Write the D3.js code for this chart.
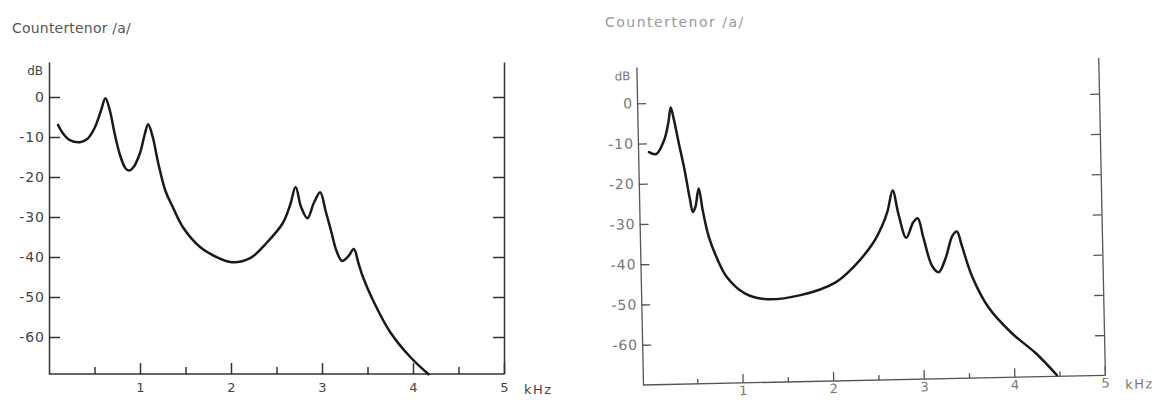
<!DOCTYPE html>
<meta charset="utf-8">
<style>
body { margin: 0; background: #fff; }
svg { font-family: "DejaVu Sans", sans-serif; }
.curve { fill: none; stroke: #1a1a1a; stroke-width: 2.5; stroke-linejoin: round; stroke-linecap: round; }
.axis path, .axis line { stroke: #333; stroke-width: 1.5; }
.right-panel .axis path, .right-panel .axis line { stroke: #555; stroke-width: 1.3; }
</style>
<svg width="1155" height="400"></svg>
<script src="https://d3js.org/d3.v7.min.js"></script>
<script>

var title = "Countertenor /a/";

var yTicks = [0, -10, -20, -30, -40, -50, -60];
var xTicks = [1, 2, 3, 4, 5];
var xMinorTicks = [0.5, 1.5, 2.5, 3.5, 4.5];

// left spectrum (kHz, dB)
var leftFreq = [0.10, 0.15, 0.23, 0.34, 0.42, 0.50, 0.57, 0.62, 0.67, 0.72, 0.78, 0.84, 0.88, 0.93,
                1.00, 1.05, 1.09, 1.14, 1.20, 1.28, 1.36, 1.47, 1.66, 1.84, 2.01, 2.21, 2.39,
                2.57, 2.65, 2.71, 2.77, 2.84, 2.91, 2.98, 3.04, 3.10, 3.16, 3.22, 3.29, 3.35,
                3.40, 3.45, 3.56, 3.75, 3.97, 4.17];
var leftDb = [-7, -9, -10.8, -11.3, -10.5, -7.8, -3.5, -0.3, -3.5, -9, -14.5, -17.8, -18.4, -17.5,
              -14, -9.5, -6.8, -10, -16.5, -23.5, -27.5, -32.5, -37.5, -40, -41.3, -40.3, -36.5,
              -31.5, -27, -22.5, -27.5, -30.3, -26.5, -23.8, -28.5, -33.5, -38.5, -41, -39.8, -38,
              -41.5, -45, -50.8, -58.8, -65, -69.3];

// right spectrum (kHz, dB)
var rightFreq = [0.02, 0.10, 0.19, 0.24, 0.27, 0.30, 0.35, 0.41, 0.46, 0.49, 0.52, 0.56, 0.60,
                 0.66, 0.74, 0.85, 1.04, 1.26, 1.66, 2.05, 2.25, 2.47, 2.58, 2.64, 2.70, 2.76,
                 2.84, 2.92, 2.97, 3.03, 3.12, 3.19, 3.27, 3.35, 3.40, 3.45, 3.56, 3.73,
                 3.98, 4.24, 4.47];
var rightDb = [-12.2, -12.7, -9.3, -5, -1.2, -4, -10, -17, -24, -27.3, -26, -21.5, -27,
               -33.5, -38.6, -43.6, -47.7, -49.3, -48.5, -45.5, -41.8, -36, -31.5, -28, -23, -29,
               -34.8, -31, -30, -35, -42, -43.5, -40, -34.5, -33.5, -37, -44.9, -52.5,
               -59, -64.1, -69.7];

var svg = d3.select("svg");

function panel(g, o) {
  var x = d3.scaleLinear().domain(o.xDomain).range(o.xRange);
  var y = d3.scaleLinear().domain(o.yDomain).range(o.yRange);
  var x0 = o.xRange[0], x1 = o.xRange[1], yb = o.yRange[0];

  g.append("g")
      .attr("class", "axis")
      .attr("transform", "translate(" + x0 + ",0)")
      .call(d3.axisLeft(y).tickValues(yTicks).tickSizeInner(-o.major).tickSizeOuter(0).tickPadding(4)
        .tickFormat(function(d) { return String(d); }))
      .call(function(a) {
        a.selectAll("text").attr("font-size", 14).attr("letter-spacing", 1)
          .attr("fill", o.text).attr("font-family", "DejaVu Sans");
      });

  g.append("g")
      .attr("class", "axis")
      .attr("transform", "translate(" + x1 + ",0)")
      .call(d3.axisRight(y).tickValues(yTicks).tickSizeInner(-o.major).tickSizeOuter(0).tickFormat(""));

  g.append("g")
      .attr("class", "axis")
      .attr("transform", "translate(0," + yb + ")")
      .call(d3.axisBottom(x).tickValues(xTicks).tickSizeInner(-o.major).tickSizeOuter(0)
        .tickPadding(o.labelPad).tickFormat(function(d) { return String(d); }))
      .call(function(a) {
        a.selectAll("text").attr("font-size", 13).attr("fill", o.text).attr("font-family", "DejaVu Sans");
        a.select(".domain").attr("d", "M" + x0 + ",0H" + x1);
      });

  g.append("g")
      .attr("class", "axis")
      .attr("transform", "translate(0," + yb + ")")
      .call(d3.axisBottom(x).tickValues(xMinorTicks).tickSizeInner(-o.minor).tickSizeOuter(0).tickFormat(""))
      .select(".domain").remove();

  g.append("text")
      .attr("x", x0 - 6)
      .attr("y", y(o.yDomain[1]) + 13)
      .attr("text-anchor", "end")
      .attr("font-size", 12)
      .attr("fill", o.text)
      .text("dB");

  g.append("text")
      .attr("x", x1 + 20)
      .attr("y", yb + o.labelPad + 11)
      .attr("font-size", 13)
      .attr("letter-spacing", 1.5)
      .attr("fill", o.text)
      .text("kHz");

  var line = d3.line()
      .x(function(d) { return x(d[0]); })
      .y(function(d) { return y(d[1]); })
      .curve(d3.curveCatmullRom.alpha(0.5));

  g.append("path")
      .datum(d3.zip(o.freq, o.db))
      .attr("class", "curve")
      .attr("d", line);
}

svg.append("text")
    .attr("x", 12).attr("y", 33)
    .attr("font-size", 14)
    .attr("letter-spacing", 0.2)
    .attr("fill", "#555")
    .text(title);

svg.append("text")
    .attr("x", 605).attr("y", 27)
    .attr("font-size", 14)
    .attr("letter-spacing", 1.5)
    .attr("fill", "#999")
    .text(title);

panel(svg.append("g"), {
  xDomain: [0, 5], xRange: [49, 504],
  yDomain: [-69.25, 8.75], yRange: [374, 62],
  freq: leftFreq, db: leftDb, text: "#444",
  major: 11, minor: 7, labelPad: 9
});

panel(svg.append("g").attr("class", "right-panel").attr("transform", "rotate(-1.2,643,385)"), {
  xDomain: [-0.1, 5], xRange: [643, 1105],
  yDomain: [-70, 9], yRange: [385, 67],
  freq: rightFreq, db: rightDb, text: "#777",
  major: 9, minor: 5, labelPad: 3
});

</script>
